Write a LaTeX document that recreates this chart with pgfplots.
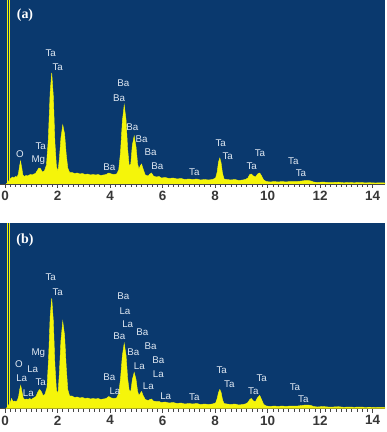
\documentclass[border=0pt]{standalone}
\usepackage{pgfplots}
\pgfplotsset{compat=1.18}
\usepackage{fontspec}
\setmainfont{Liberation Sans}
\newfontfamily\serifb{Liberation Serif}
\definecolor{bgblue}{RGB}{10,57,110}
\definecolor{specyellow}{RGB}{245,245,10}
\definecolor{lbl}{RGB}{225,233,242}
\definecolor{tickgray}{RGB}{55,55,55}
\definecolor{axisgray}{RGB}{70,70,70}

\pgfplotstableread{
x y
0.05 0
0.20 5
0.28 7
0.34 6
0.40 7.5
0.46 7
0.51 10
0.55 17
0.59 23
0.64 16
0.68 9
0.74 7.5
0.80 8.5
0.86 8
0.92 9
0.98 9.5
1.04 9
1.10 10
1.16 10.5
1.22 13
1.29 16
1.35 15.5
1.42 12
1.50 13
1.58 19
1.65 45
1.72 92
1.78 111
1.84 88
1.90 42
1.96 17
2.02 13
2.07 25
2.13 46
2.20 59
2.27 50
2.33 30
2.39 16
2.46 11.5
2.55 11.5
2.65 10.5
2.75 11
2.85 10
2.95 10.5
3.05 9.5
3.15 10
3.25 9
3.35 9.5
3.45 9
3.55 9.5
3.65 8.5
3.75 9
3.85 9.5
3.95 11
4.05 10
4.15 9.5
4.25 10
4.33 14
4.40 32
4.47 63
4.54 79
4.61 64
4.67 35
4.73 18
4.79 20
4.85 39
4.92 48
4.99 37
5.05 20
5.10 15
5.15 18
5.20 20
5.26 15
5.34 9
5.45 8
5.52 10
5.58 11
5.65 8
5.75 7
5.87 7.5
5.95 6
6.10 6.5
6.25 5.5
6.40 6
6.55 5
6.70 5.5
6.85 4.5
7.00 5
7.15 4.5
7.30 5
7.45 4
7.60 4.5
7.75 4
7.90 4.5
8.02 6
8.08 12
8.13 22
8.18 26
8.23 21
8.28 11
8.34 5
8.45 4.5
8.60 4
8.75 4.5
8.90 3.5
9.05 4
9.15 4.5
9.25 6
9.32 9.5
9.38 10
9.46 8
9.54 7
9.62 10
9.70 11
9.77 8
9.85 4
9.95 2.5
10.10 2
10.25 2.5
10.40 2
10.55 2.5
10.70 2
10.85 2.5
11.00 2.5
11.15 2.5
11.30 3
11.45 3.5
11.55 3.5
11.65 3
11.75 2
11.90 1.5
12.10 2
12.30 1.5
12.50 1.5
12.70 1.8
12.90 1.2
13.10 1.5
13.30 1.2
13.50 1.5
13.70 1.2
13.90 1.3
14.10 1
14.30 1.2
14.47 1
}\specA

\pgfplotstableread{
x y
0.05 0
0.20 6
0.25 10
0.30 7
0.36 7.5
0.42 7
0.47 8
0.52 12
0.56 19
0.60 23
0.65 16
0.70 10
0.76 9
0.82 9.5
0.88 9
0.94 10
1.00 9
1.06 10
1.12 11
1.18 12
1.26 17
1.32 19
1.38 17
1.45 13
1.52 14
1.60 21
1.66 50
1.72 92
1.78 110
1.84 88
1.90 44
1.96 18
2.02 15
2.07 35
2.13 68
2.20 87
2.27 73
2.33 42
2.39 19
2.46 12.5
2.55 12.5
2.65 11
2.75 11.5
2.85 10.5
2.95 11
3.05 10
3.15 10.5
3.25 9.5
3.35 10
3.45 9.5
3.55 10
3.65 9
3.75 9.5
3.85 10
3.95 12
4.05 10.5
4.15 10
4.25 10.5
4.33 15
4.40 30
4.47 53
4.54 65
4.61 53
4.67 30
4.73 18
4.79 17
4.85 29
4.92 36
4.99 29
5.05 17
5.10 13
5.15 15
5.20 17
5.26 13
5.34 9
5.45 8
5.52 9
5.58 9.5
5.65 7.5
5.75 7
5.87 7
5.95 6
6.10 6.5
6.25 5.5
6.40 6
6.55 5
6.70 5.5
6.85 4.5
7.00 5
7.15 4.5
7.30 5
7.45 4
7.60 4.5
7.75 4
7.90 4.5
8.02 5.5
8.08 10
8.13 16
8.18 19
8.23 16
8.28 9
8.34 5
8.45 4.5
8.60 4
8.75 4.5
8.90 3.5
9.05 4
9.15 4.5
9.25 6
9.32 9
9.38 10
9.46 7.5
9.54 7
9.62 11
9.70 13
9.77 9
9.85 4
9.95 2.5
10.10 2
10.25 2.5
10.40 2
10.55 2.5
10.70 2
10.85 2.5
11.00 2.5
11.15 2.5
11.30 3
11.45 3.5
11.55 3.5
11.65 3
11.75 2
11.90 1.5
12.10 2
12.30 1.5
12.50 1.5
12.70 1.8
12.90 1.2
13.10 1.5
13.30 1.2
13.50 1.5
13.70 1.2
13.90 1.3
14.10 1
14.30 1.2
14.47 1
}\specB

\pgfplotsset{
  edsstyle/.style={
    anchor=south west, scale only axis, width=385bp,
    xmin=-0.19, xmax=14.47, ymin=0,
    axis background/.style={fill=bgblue},
    axis x line*=bottom, axis y line=none,
    x axis line style={draw=axisgray, line width=0.8bp},
    xtick={0,2,...,14}, minor x tick num=9,
    tick align=outside, major tick length=4bp, minor tick length=3bp,
    tick style={axisgray, line width=0.6bp},
    xticklabel style={font=\fontsize{13.5}{14}\selectfont\bfseries, text=tickgray, inner sep=3bp},
    /pgf/number format/assume math mode=true,
  }
}

\begin{document}
\begin{tikzpicture}
\useasboundingbox (0,0) rectangle (387bp,432bp);
\begin{axis}[edsstyle, at={(0,248bp)}, height=184bp, ymax=184]
  \addplot [fill=specyellow, draw=specyellow, line width=0.4bp] table {\specA} \closedcycle;
  \addplot [specyellow, line width=1.1bp] coordinates {(0.107,0) (0.107,184)};
  \addplot [specyellow, line width=1.1bp] coordinates {(0.183,0) (0.183,184)};
\end{axis}
\begin{axis}[edsstyle, at={(0,23.5bp)}, height=185.5bp, ymax=185.5]
  \addplot [fill=specyellow, draw=specyellow, line width=0.4bp] table {\specB} \closedcycle;
  \addplot [specyellow, line width=1.1bp] coordinates {(0.107,0) (0.107,185.5)};
  \addplot [specyellow, line width=1.1bp] coordinates {(0.183,0) (0.183,185.5)};
\end{axis}
\begin{scope}[shift={(0,432bp)}, x=1bp, y=-1bp,
  every node/.style={inner sep=0pt, text=lbl, font=\fontsize{9.8}{10}\selectfont}]
  % panel (a)
  \node[font=\serifb\bfseries\fontsize{14}{15}\selectfont, text=white] at (25,15) {(a)};
  \node at (50.7,52.7) {Ta}; \node at (57.7,66.7) {Ta};
  \node at (123.3,83.3) {Ba}; \node at (119,98.3) {Ba};
  \node at (132.3,127.3) {Ba}; \node at (141.7,139) {Ba};
  \node at (150.7,152.3) {Ba}; \node at (157.3,165.7) {Ba};
  \node at (40.7,145.7) {Ta}; \node at (38.3,160) {Mg}; \node at (20,154) {O};
  \node at (109.3,166.7) {Ba};
  \node at (194.3,171.7) {Ta};
  \node at (220.7,143.3) {Ta}; \node at (227.7,156) {Ta};
  \node at (260,153.3) {Ta}; \node at (251.7,165.7) {Ta};
  \node at (293.3,161) {Ta}; \node at (301,173.3) {Ta};
  % panel (b)
  \node[font=\serifb\bfseries\fontsize{14}{15}\selectfont, text=white] at (25,240) {(b)};
  \node at (50.7,277.3) {Ta}; \node at (57.7,291.7) {Ta};
  \node at (38.3,353.3) {Mg};
  \node at (19,364) {O}; \node at (32.7,369.3) {La}; \node at (21.7,378.3) {La};
  \node at (40.7,381.7) {Ta}; \node at (28.3,392.7) {La};
  \node at (123.3,296) {Ba}; \node at (125,310.7) {La}; \node at (127.7,324) {La};
  \node at (142.3,332.3) {Ba}; \node at (119.3,336) {Ba}; \node at (150.7,346) {Ba};
  \node at (133.3,351.7) {Ba}; \node at (158.3,360) {Ba}; \node at (139.3,366) {La};
  \node at (158.3,374.3) {La}; \node at (148.3,385.7) {La}; \node at (165.7,395.7) {La};
  \node at (109.3,377.3) {Ba}; \node at (115,391) {La};
  \node at (194.3,396.7) {Ta};
  \node at (221.7,370) {Ta}; \node at (229.3,384.3) {Ta};
  \node at (261.7,378.3) {Ta}; \node at (253.3,391) {Ta};
  \node at (295,387.3) {Ta}; \node at (303.3,399.3) {Ta};
\end{scope}
\end{tikzpicture}
\end{document}
